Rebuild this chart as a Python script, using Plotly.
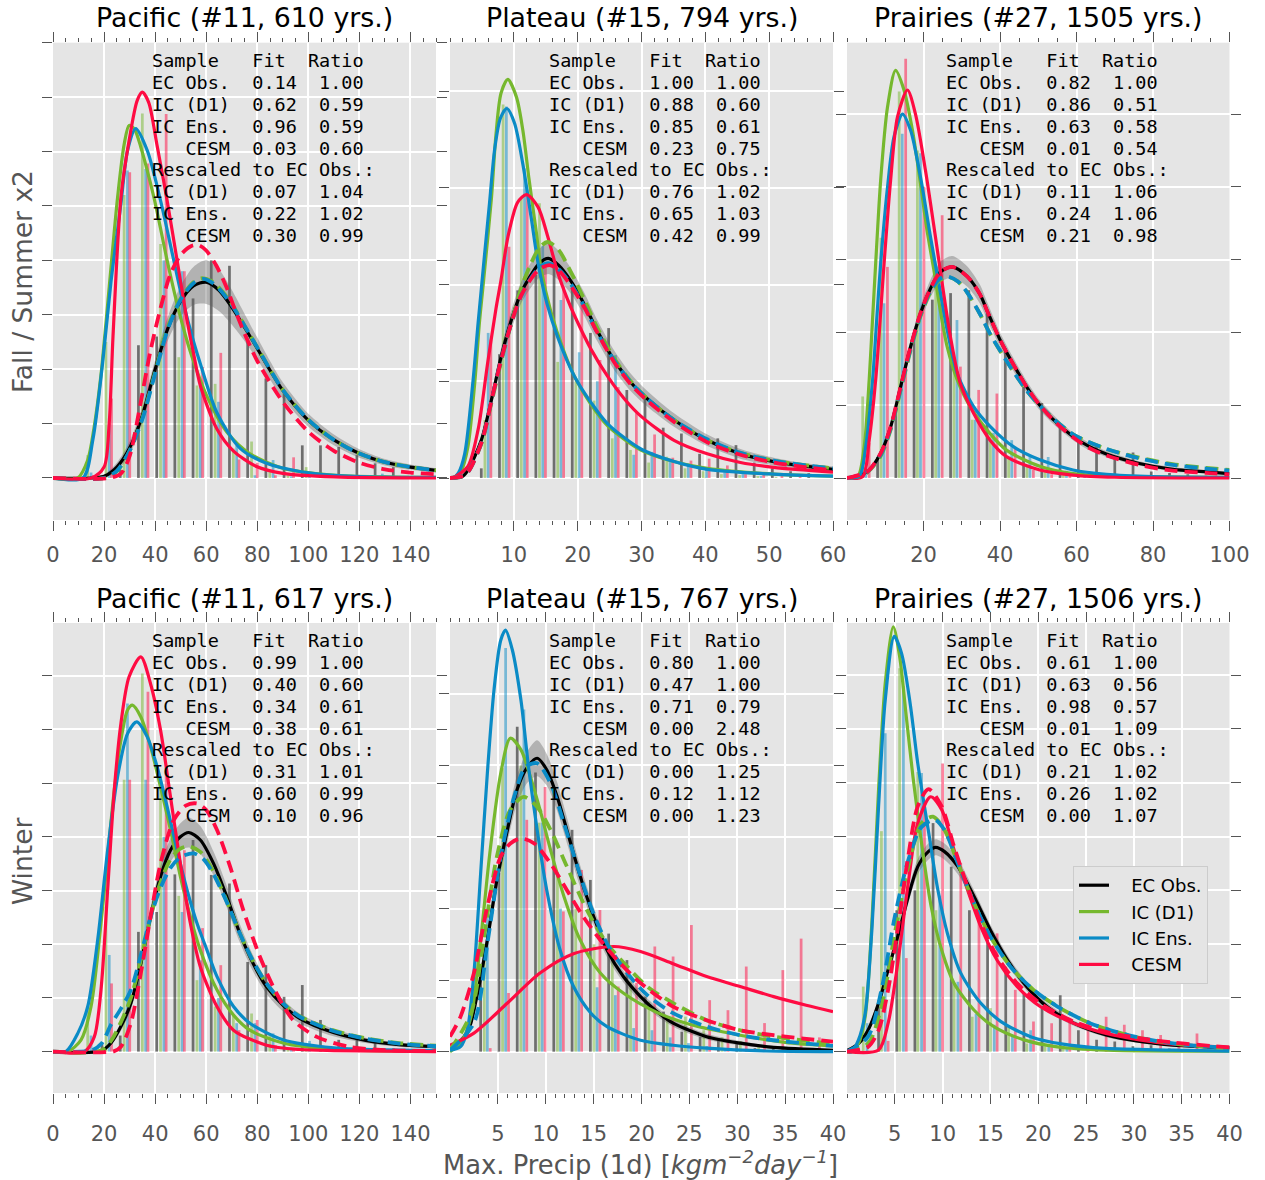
import plotly.graph_objects as go

W, H = 1265, 1180

# ------------------------------------------------------------------ data
REGIONS = ["Pacific", "Plateau", "Prairies"]
REGION_IDS = [11, 15, 27]
YEARS = [610, 794, 1505, 617, 767, 1506]
SEASONS = ["Fall / Summer x2", "Winter"]
SERIES = ["EC Obs.", "IC (D1)", "IC Ens.", "CESM"]

FIT = [[0.14, 0.62, 0.96, 0.03], [1.00, 0.88, 0.85, 0.23], [0.82, 0.86, 0.63, 0.01],
       [0.99, 0.40, 0.34, 0.38], [0.80, 0.47, 0.71, 0.00], [0.61, 0.63, 0.98, 0.01]]
RATIO = [[1.00, 0.59, 0.59, 0.60], [1.00, 0.60, 0.61, 0.75], [1.00, 0.51, 0.58, 0.54],
         [1.00, 0.60, 0.61, 0.61], [1.00, 1.00, 0.79, 2.48], [1.00, 0.56, 0.57, 1.09]]
RS_FIT = [[0.07, 0.22, 0.30], [0.76, 0.65, 0.42], [0.11, 0.24, 0.21],
          [0.31, 0.60, 0.10], [0.00, 0.12, 0.00], [0.21, 0.26, 0.00]]
RS_RATIO = [[1.04, 1.02, 0.99], [1.02, 1.03, 0.99], [1.06, 1.06, 0.98],
            [1.01, 0.99, 0.96], [1.25, 1.12, 1.23], [1.02, 1.02, 1.07]]

# ---- Panel 1: Pacific, fall/summer (density in grid units)
P1_EC = [(0, 0), (15, 0), (20, 0.03), (25, 0.2), (30, 0.55), (35, 1.15), (40, 2.0), (45, 2.75),
         (50, 3.25), (55, 3.53), (60, 3.6), (65, 3.45), (70, 3.14), (75, 2.77), (80, 2.38),
         (85, 1.98), (90, 1.61), (100, 1.06), (110, 0.7), (120, 0.45), (130, 0.29), (140, 0.2), (150, 0.14)]
P1_BAND = [0, 0, 0.03, 0.08, 0.12, 0.15, 0.18, 0.22, 0.28, 0.35, 0.4, 0.38, 0.32, 0.25, 0.2,
           0.17, 0.15, 0.12, 0.1, 0.08, 0.06, 0.05, 0.04]
P1_D1 = [(0, 0), (9.7, 0), (13.6, 0.33), (16, 0.9), (18.8, 1.9), (22, 3.5), (25.3, 5.16), (27.9, 6.14),
         (29.8, 6.48), (32, 6.4), (34.4, 6.08), (39.5, 5.16), (44.7, 4.0), (48.6, 3.2), (52, 2.6),
         (55, 2.15), (60.3, 1.5), (68, 0.85), (77, 0.45), (90, 0.18), (109.5, 0.055), (130, 0.02), (150, 0.01)]
P1_ENS = [(0, 0), (11.7, 0), (15.6, 0.7), (19.4, 2.1), (22.7, 3.6), (26.6, 5.04), (29.2, 6.02), (32.4, 6.42),
          (36.9, 6.02), (42.1, 5.1), (47.3, 4.0), (50.6, 3.3), (55.1, 2.5), (57.7, 2.1), (64.2, 1.2),
          (73.2, 0.55), (83.6, 0.27), (96.6, 0.12), (110, 0.05), (130, 0.015), (150, 0.01)]
P1_CESM = [(0, 0), (15, 0), (20, 0.2), (22, 1.0), (23.5, 2.6), (26.6, 5.16), (29.8, 6.2), (33, 6.94),
           (35, 7.09), (37.5, 6.9), (40.8, 6.1), (44.7, 5.1), (48.6, 4.0), (52.5, 2.9), (55, 2.3),
           (57.7, 1.7), (64.2, 0.9), (70.6, 0.5), (79.7, 0.21), (90, 0.085), (110, 0.02), (150, 0)]
P1_D1_RS = [(0, 0), (20, 0), (25, 0.12), (30, 0.5), (35, 1.1), (40, 1.95), (45, 2.78), (50, 3.3),
            (55, 3.6), (58, 3.67), (62, 3.62), (65, 3.5), (70, 3.2), (75, 2.8), (80, 2.4), (90, 1.62),
            (100, 1.07), (110, 0.7), (120, 0.45), (130, 0.29), (140, 0.2), (150, 0.14)]
P1_ENS_RS = [(0, 0), (20, 0), (25, 0.13), (30, 0.5), (35, 1.08), (40, 1.92), (45, 2.74), (50, 3.28),
             (55, 3.58), (59, 3.66), (62, 3.6), (65, 3.48), (70, 3.18), (75, 2.8), (80, 2.4), (90, 1.62),
             (100, 1.07), (110, 0.7), (120, 0.45), (130, 0.29), (140, 0.2), (150, 0.14)]
P1_CESM_RS = [(0, 0), (22, 0), (26.6, 0.08), (30, 0.4), (34, 1.3), (38, 2.3), (42, 3.1), (46, 3.75),
              (50, 4.1), (54, 4.26), (57, 4.28), (60, 4.18), (64, 3.9), (68, 3.5), (72, 3.0), (76, 2.55),
              (80, 2.15), (90, 1.4), (100, 0.85), (110, 0.5), (120, 0.28), (130, 0.16), (140, 0.1), (150, 0.07)]
P1_BIN_W = 7.13
P1_EC_BARS = (19.2, [0.05, 0.15, 2.44, 2.6, 3.0, 3.3, 4.0, 3.9, 2.5, 1.83, 1.61, 0.6, 0.6, 0.57, 0.42, 0.27, 0.2])
P1_D1_BARS = (13.6, [0.42, 2.5, 5.2, 6.7, 4.3, 2.22, 1.7, 1.73, 0.54, 0.67, 0.15, 0.05, 0.2])
P1_ENS_BARS = (14.9, [0.1, 1.0, 5.65, 5.68, 4.0, 3.8, 1.7, 1.4, 0.6, 0.05, 0.33, 0.03, 0.02, 0.02, 0.01, 0.01, 0.08])
P1_CESM_BARS = (15.8, [0.05, 1.46, 5.62, 5.78, 6.69, 3.8, 2.04, 2.3, 0.34, 0.28, 0.05, 0.38])

# ---- Panel 2: Plateau, fall/summer
P2_EC = [(0, 0), (1.8, 0.01), (2.8, 0.08), (4.9, 0.39), (6.5, 0.81), (8, 1.25), (9.6, 1.63), (11.1, 1.91),
         (12.7, 2.1), (14, 2.22), (15.4, 2.27), (17, 2.2), (19, 2.03), (21, 1.8), (23.1, 1.52), (25.7, 1.22),
         (28.3, 0.99), (30.9, 0.82), (35.1, 0.6), (40.3, 0.39), (45.5, 0.25), (50.7, 0.17), (55.9, 0.12), (60, 0.09)]
P2_BAND = [0, 0, 0.02, 0.05, 0.07, 0.09, 0.1, 0.11, 0.13, 0.15, 0.16, 0.15, 0.13, 0.12, 0.11, 0.1,
           0.09, 0.08, 0.07, 0.06, 0.05, 0.04, 0.03, 0.03]
P2_D1 = [(0, 0), (0.5, 0), (1.8, 0.08), (2.8, 0.32), (3.9, 1.0), (4.6, 1.6), (5.2, 2.0), (6.5, 2.9),
         (7.2, 3.55), (8.0, 3.98), (9.06, 4.12), (10.4, 3.94), (11.4, 3.6), (12.4, 3.08), (13.5, 2.55),
         (14.3, 2.15), (15.8, 1.72), (17.9, 1.3), (19.5, 1.05), (22.1, 0.76), (24.7, 0.54), (29.9, 0.29),
         (35.1, 0.17), (40.3, 0.1), (50.7, 0.04), (60, 0.02)]
P2_ENS = [(0, 0), (0.5, 0), (1.3, 0.05), (2.3, 0.25), (3.6, 1.0), (4.4, 1.6), (4.9, 1.95), (5.4, 2.3),
          (6.2, 2.85), (7.0, 3.4), (7.9, 3.72), (8.9, 3.82), (10.1, 3.67), (11.4, 3.25), (12.7, 2.7),
          (13.8, 2.22), (15.2, 1.8), (16.9, 1.45), (19.5, 1.05), (22.1, 0.78), (24.7, 0.56), (29.9, 0.3),
          (35.1, 0.17), (40.3, 0.09), (50.7, 0.04), (60, 0.02)]
P2_CESM = [(0, 0), (0.7, 0.01), (2.8, 0.12), (4.4, 0.5), (5.9, 1.19), (7.2, 1.75), (8.0, 2.05), (9.1, 2.5),
           (10.6, 2.85), (12.0, 2.93), (13.8, 2.8), (15.3, 2.5), (16.9, 2.12), (18.4, 1.85), (19.5, 1.68),
           (22.1, 1.33), (24.7, 1.05), (27.3, 0.82), (29.9, 0.64), (35.1, 0.39), (40.3, 0.25), (45.5, 0.16),
           (50.7, 0.11), (60, 0.06)]
P2_D1_RS = [(0, 0), (2, 0.02), (3, 0.08), (5, 0.37), (6.5, 0.78), (8, 1.2), (9.6, 1.6), (11.1, 1.95),
            (12.7, 2.22), (14, 2.38), (15.3, 2.44), (17, 2.36), (19, 2.12), (21, 1.85), (23.1, 1.55),
            (25.7, 1.24), (28.3, 1.0), (30.9, 0.82), (35.1, 0.6), (40.3, 0.39), (45.5, 0.26), (50.7, 0.18),
            (55.9, 0.13), (60, 0.1)]
P2_ENS_RS = [(0, 0), (2, 0.02), (3, 0.08), (5, 0.38), (6.5, 0.8), (8, 1.22), (9.6, 1.6), (11.1, 1.88),
             (12.7, 2.07), (14, 2.18), (15.4, 2.22), (17, 2.16), (19, 2.0), (21, 1.78), (23.1, 1.5),
             (25.7, 1.22), (28.3, 0.99), (30.9, 0.82), (35.1, 0.6), (40.3, 0.4), (45.5, 0.26), (50.7, 0.18),
             (55.9, 0.13), (60, 0.1)]
P2_CESM_RS = [(0, 0), (2, 0.02), (3, 0.08), (5, 0.38), (6.5, 0.8), (8, 1.22), (9.6, 1.6), (11.1, 1.88),
              (12.7, 2.06), (14, 2.16), (15.6, 2.2), (17, 2.15), (19, 1.98), (21, 1.77), (23.1, 1.5),
              (25.7, 1.2), (28.3, 0.97), (30.9, 0.8), (35.1, 0.58), (40.3, 0.37), (45.5, 0.24), (50.7, 0.16),
              (55.9, 0.11), (60, 0.08)]
P2_BIN_W = 2.85
P2_EC_BARS = (4.9, [0.1, 1.28, 1.94, 2.1, 2.25, 1.98, 1.5, 1.55, 0.91, 0.82, 0.52, 0.46, 0.25, 0.41, 0.34,
                    0.16, 0.1, 0.07, 0.05])
P2_D1_BARS = (5.47, [0.6, 3.86, 2.9, 2.84, 1.2, 1.0, 0.8, 0.41, 0.29, 0.16, 0.22, 0.1, 0.07, 0.04, 0.03,
                     0.02, 0.01])
P2_ENS_BARS = (5.98, [1.5, 3.84, 3.2, 2.4, 1.84, 1.3, 1.0, 1.27, 0.24, 0.27, 0.2, 0.15, 0.1, 0.06, 0.04, 0.02])
P2_CESM_BARS = (6.4, [1.43, 2.39, 2.98, 2.2, 1.98, 1.84, 1.22, 0.94, 0.67, 0.45, 0.21, 0.18, 0.2, 0.13,
                      0.04, 0.05, 0.02, 0.02])

# ---- Panel 3: Prairies, fall/summer
P3_EC = [(0, 0), (1, 0.01), (5.4, 0.09), (8.8, 0.34), (11.4, 0.7), (14, 1.25), (16.6, 1.8), (19.2, 2.26),
         (21.8, 2.6), (24.4, 2.83), (27.5, 2.9), (31.4, 2.77), (34.8, 2.52), (36.6, 2.3), (40, 1.9),
         (43.5, 1.56), (47, 1.25), (50.4, 1.0), (54.8, 0.76), (59.1, 0.57), (63.4, 0.43), (67.8, 0.33),
         (76.4, 0.2), (85.1, 0.12), (93.8, 0.085), (100, 0.06)]
P3_BAND = [0, 0, 0.02, 0.04, 0.06, 0.08, 0.09, 0.1, 0.12, 0.14, 0.15, 0.14, 0.13, 0.12, 0.1, 0.09,
           0.08, 0.07, 0.06, 0.05, 0.05, 0.04, 0.03, 0.03, 0.02, 0.02]
P3_D1 = [(0, 0), (2.8, 0.02), (4.5, 0.43), (5.8, 1.35), (6.7, 2.2), (7.5, 2.95), (8.8, 4.09), (10.6, 5.1),
         (12.7, 5.6), (14.9, 5.33), (17.1, 4.78), (19.2, 4.05), (20.9, 3.41), (22.7, 2.86), (24.4, 2.3),
         (26.2, 1.8), (28.8, 1.35), (32.2, 0.98), (37.4, 0.61), (41.8, 0.38), (50.4, 0.16), (59.1, 0.06),
         (67.8, 0.03), (100, 0.01)]
P3_ENS = [(0, 0), (3.2, 0.02), (4.9, 0.43), (6.7, 1.35), (7.8, 2.2), (8.8, 2.95), (10.6, 4.0), (12.3, 4.69),
          (14.5, 5.0), (16.6, 4.78), (19.2, 4.14), (21.8, 3.32), (24.0, 2.67), (26.2, 2.03), (28.8, 1.44),
          (33.1, 0.98), (37.4, 0.71), (43.5, 0.43), (50.4, 0.25), (59.1, 0.11), (67.8, 0.05), (80, 0.02), (100, 0.01)]
P3_CESM = [(0, 0), (4.1, 0.02), (5.8, 0.52), (7.5, 1.35), (8.7, 2.2), (9.7, 2.95), (11.4, 4.09), (13.2, 4.96),
           (15.8, 5.33), (17.9, 5.0), (20.5, 4.23), (23.1, 3.32), (24.9, 2.67), (27, 1.95), (29.6, 1.3),
           (33.1, 0.89), (37.4, 0.52), (41.8, 0.29), (50.4, 0.11), (59.1, 0.04), (70, 0.01), (100, 0)]
P3_D1_RS = [(0, 0), (3, 0.02), (5.4, 0.08), (8.8, 0.3), (11.4, 0.66), (14, 1.2), (16.6, 1.75), (19.2, 2.22),
            (21.8, 2.55), (24.4, 2.72), (26.5, 2.76), (29, 2.7), (31.4, 2.55), (34.8, 2.25), (37.4, 1.98),
            (41.8, 1.6), (47, 1.2), (52.2, 0.9), (59.1, 0.6), (67.8, 0.4), (76.4, 0.28), (85.1, 0.19),
            (93.8, 0.14), (100, 0.11)]
P3_ENS_RS = [(0, 0), (3, 0.02), (5.4, 0.09), (8.8, 0.32), (11.4, 0.68), (14, 1.22), (16.6, 1.77), (19.2, 2.24),
             (21.8, 2.57), (24.4, 2.74), (26.2, 2.77), (29, 2.7), (31.4, 2.55), (34.8, 2.25), (37.4, 1.98),
             (41.8, 1.6), (47, 1.2), (52.2, 0.9), (59.1, 0.6), (67.8, 0.4), (76.4, 0.27), (85.1, 0.18),
             (93.8, 0.13), (100, 0.1)]
P3_CESM_RS = [(0, 0), (1, 0.01), (5.4, 0.09), (8.8, 0.34), (11.4, 0.7), (14, 1.25), (16.6, 1.8), (19.2, 2.26),
              (21.8, 2.6), (24.4, 2.83), (27.5, 2.9), (31.4, 2.77), (34.8, 2.52), (36.6, 2.3), (40, 1.9),
              (43.5, 1.56), (47, 1.25), (50.4, 1.0), (54.8, 0.75), (59.1, 0.56), (63.4, 0.41), (67.8, 0.31),
              (76.4, 0.18), (85.1, 0.1), (93.8, 0.07), (100, 0.05)]
P3_BIN_W = 4.77
P3_EC_BARS = (8.0, [0.29, 0.96, 1.94, 2.45, 2.54, 2.58, 2.26, 1.78, 1.25, 1.03, 0.75, 0.57, 0.43, 0.29, 0.35,
                    0.09, 0.07, 0.05, 0.03])
P3_D1_BARS = (4.1, [1.12, 3.3, 5.31, 4.5, 2.8, 1.6, 0.8, 0.57, 0.29, 0.15, 0.1, 0.05])
P3_ENS_BARS = (4.9, [0.15, 2.4, 4.73, 4.46, 2.9, 2.17, 0.8, 0.62, 0.52, 0.3, 0.29, 0.1, 0.05])
P3_CESM_BARS = (5.8, [0.48, 2.9, 5.76, 4.0, 3.61, 1.53, 1.21, 1.16, 0.43, 0.11, 0.05, 0.03])

# ---- Panel 4: Pacific, winter
P4_EC = [(0, 0), (18.8, 0.01), (22.7, 0.16), (26.6, 0.47), (30.5, 0.9), (34.4, 1.64), (38.2, 2.51),
         (42.1, 3.26), (46, 3.75), (49.9, 4.0), (53.2, 4.08), (57.7, 3.94), (62.9, 3.5), (68.1, 2.88),
         (73.2, 2.2), (78.4, 1.64), (83.6, 1.21), (90.1, 0.86), (96.6, 0.62), (109.5, 0.36), (122.5, 0.21),
         (135.5, 0.13), (150, 0.09)]
P4_BAND = [0, 0, 0.04, 0.08, 0.12, 0.15, 0.18, 0.2, 0.22, 0.25, 0.28, 0.26, 0.22, 0.2, 0.17, 0.15,
           0.13, 0.11, 0.09, 0.07, 0.05, 0.04, 0.03]
P4_D1 = [(0, 0), (5.8, 0), (11, 0.22), (14.9, 0.84), (18.8, 2.39), (21.4, 3.63), (24, 4.87), (26.6, 5.8),
         (29.2, 6.36), (31.1, 6.45), (34.4, 6.23), (38.2, 5.68), (42.1, 4.93), (46, 4.13), (49.9, 3.26),
         (53.8, 2.51), (57.7, 1.89), (64.2, 1.15), (70.7, 0.68), (77.1, 0.4), (90.1, 0.16), (110, 0.04), (150, 0.01)]
P4_ENS = [(0, 0), (5, 0), (9.7, 0.34), (13.6, 0.84), (17.5, 2.08), (21.4, 3.75), (25.3, 5.12), (29.2, 5.92),
          (32.8, 6.14), (36.9, 5.86), (40.8, 5.3), (44.7, 4.56), (48.6, 3.75), (52.5, 3.01), (56.4, 2.39),
          (60.3, 1.89), (64.2, 1.4), (70.7, 0.84), (77.1, 0.53), (90.1, 0.22), (110, 0.07), (150, 0.02)]
P4_CESM = [(0, 0), (12.3, 0), (16.2, 0.28), (18.8, 1.15), (21.4, 3.01), (24, 4.87), (26.6, 6.11), (29.8, 6.98),
           (34.4, 7.35), (38.2, 6.85), (42.1, 5.99), (46, 4.75), (49.9, 3.5), (53.8, 2.39), (57.7, 1.58),
           (64.2, 0.84), (70.7, 0.4), (83.6, 0.12), (96.6, 0.04), (110, 0.02), (150, 0)]
P4_D1_RS = [(0, 0), (18.8, 0.02), (22.7, 0.2), (26.6, 0.55), (30.5, 1.0), (34.4, 1.7), (38.2, 2.5), (42.1, 3.15),
            (46, 3.58), (49.9, 3.78), (53.2, 3.82), (57.7, 3.72), (62.9, 3.35), (68.1, 2.8), (73.2, 2.2),
            (78.4, 1.68), (83.6, 1.27), (90.1, 0.9), (96.6, 0.66), (109.5, 0.4), (122.5, 0.25), (135.5, 0.16),
            (150, 0.11)]
P4_ENS_RS = [(0, 0), (15, 0.02), (19, 0.15), (22.7, 0.5), (26.6, 0.8), (30.5, 1.15), (34.4, 1.8), (38.2, 2.5),
             (42.1, 3.05), (46, 3.42), (49.9, 3.62), (55.1, 3.69), (59, 3.58), (62.9, 3.3), (68.1, 2.78),
             (73.2, 2.2), (78.4, 1.68), (83.6, 1.27), (90.1, 0.9), (96.6, 0.65), (109.5, 0.39), (122.5, 0.24),
             (135.5, 0.15), (150, 0.1)]
P4_CESM_RS = [(0, 0), (24, 0.01), (26.6, 0.09), (30.5, 0.53), (34.4, 1.46), (38.2, 2.51), (42.1, 3.5),
              (47.3, 4.31), (52, 4.58), (56.4, 4.62), (60, 4.5), (64.2, 4.13), (69.4, 3.44), (74.5, 2.64),
              (81, 1.77), (87.5, 1.09), (94, 0.59), (103.1, 0.28), (116, 0.09), (130, 0.03), (150, 0.01)]
P4_BIN_W = 7.13
P4_EC_BARS = (19.2, [0.16, 0.3, 2.23, 2.6, 3.3, 3.94, 3.29, 3.13, 1.67, 1.61, 1.02, 1.24, 0.59, 0.22, 0.22,
                     0.19, 0.06])
P4_D1_BARS = (13.6, [0.84, 2.7, 5.06, 7.04, 4.9, 2.9, 1.33, 0.84, 0.7, 0.71, 0.34, 0.06, 0.05])
P4_ENS_BARS = (14.9, [0.3, 1.8, 6.48, 5.06, 4.0, 2.6, 1.7, 1.0, 0.53, 0.53, 0.34, 0.03, 0.2])
P4_CESM_BARS = (15.8, [0.05, 1.27, 5.06, 6.7, 5.2, 3.75, 2.3, 1.61, 0.4, 0.59, 0.12, 0.05])

# ---- Panel 5: Plateau, winter
P5_EC = [(0, 0.02), (1.8, 0.26), (2.8, 0.77), (3.9, 1.56), (4.9, 2.4), (6.0, 3.1), (7.0, 3.66), (8.1, 3.98),
         (9.1, 4.1), (10.1, 3.94), (11.2, 3.56), (12.2, 3.1), (13.6, 2.45), (15.0, 1.89), (16.4, 1.42),
         (18.1, 1.05), (19.9, 0.77), (21.6, 0.56), (23.3, 0.4), (26.8, 0.21), (30.3, 0.12), (33.8, 0.06), (40, 0.02)]
P5_BAND = [0.02, 0.06, 0.1, 0.13, 0.15, 0.17, 0.2, 0.22, 0.25, 0.22, 0.2, 0.18, 0.15, 0.13, 0.1, 0.08,
           0.07, 0.06, 0.05, 0.04, 0.03, 0.02, 0.02]
P5_D1 = [(0, 0), (1.1, 0.12), (2.2, 0.49), (3.2, 1.56), (4.2, 2.82), (5.3, 3.89), (6.3, 4.38), (7.4, 4.22),
         (8.4, 3.84), (9.4, 3.38), (10.5, 2.82), (11.9, 2.17), (13.6, 1.56), (15.7, 1.1), (18.1, 0.82),
         (21.6, 0.55), (25.1, 0.38), (30.3, 0.23), (35, 0.13), (40, 0.08)]
P5_ENS = [(0, 0.02), (1.1, 0.07), (1.8, 0.3), (2.5, 1.1), (3.2, 2.49), (3.9, 3.89), (4.6, 5.06), (5.3, 5.75),
          (5.8, 5.89), (6.5, 5.62), (7.4, 4.92), (8.2, 3.98), (9.1, 3.1), (10.1, 2.26), (11.5, 1.42),
          (12.9, 0.91), (14.7, 0.54), (16.4, 0.35), (19.9, 0.16), (23.3, 0.09), (26.8, 0.05), (33, 0.01), (40, 0)]
P5_CESM = [(0, 0.09), (2.5, 0.26), (6.0, 0.68), (9.4, 1.1), (12.9, 1.37), (17.1, 1.47), (19.9, 1.4),
           (23.3, 1.23), (26.8, 1.05), (30.3, 0.91), (33.8, 0.77), (37.2, 0.65), (40, 0.56)]
P5_D1_RS = [(0, 0.02), (2.2, 0.54), (3.5, 1.56), (4.9, 2.73), (6.3, 3.38), (7.7, 3.56), (9.1, 3.42),
            (10.5, 3.1), (12.2, 2.59), (14.3, 1.98), (16.4, 1.51), (18.5, 1.19), (20.6, 0.91), (23.3, 0.68),
            (26.8, 0.44), (30.3, 0.3), (33.8, 0.21), (40, 0.11)]
P5_ENS_RS = [(0, 0.02), (2.5, 0.4), (3.9, 1.51), (5.3, 2.73), (6.7, 3.56), (7.9, 3.98), (9.1, 4.03),
             (10.5, 3.75), (11.9, 3.19), (13.3, 2.59), (14.7, 2.03), (16.4, 1.51), (18.5, 1.1), (20.6, 0.79),
             (23.3, 0.54), (26.8, 0.35), (30.3, 0.23), (33.8, 0.16), (40, 0.08)]
P5_CESM_RS = [(0, 0.21), (1.1, 0.49), (2.5, 1.1), (3.9, 2.03), (5.3, 2.73), (6.3, 2.91), (7.4, 2.98),
              (8.8, 2.91), (10.5, 2.63), (12.2, 2.26), (13.9, 1.89), (15.7, 1.56), (17.8, 1.23), (19.9, 0.96),
              (23.3, 0.63), (26.8, 0.44), (30.3, 0.3), (33.8, 0.23), (40, 0.14)]
P5_BIN_W = 1.91
P5_EC_BARS = (3.2, [1.14, 2.5, 4.54, 3.9, 3.68, 3.1, 2.4, 1.65, 1.28, 0.77, 0.56, 0.28, 0.21, 0.19, 0.12,
                    0.05, 0.04])
P5_D1_BARS = (3.58, [1.5, 3.96, 4.0, 3.2, 2.5, 2.0, 1.5, 1.33, 0.98, 0.7, 0.5, 0.49, 0.3, 0.2, 0.15, 0.1])
P5_ENS_BARS = (3.9, [2.0, 5.64, 4.78, 3.2, 2.0, 1.4, 0.9, 0.79, 0.33, 0.3, 0.2, 0.12, 0.08, 0.05])
P5_CESM_BARS = (4.2, [0.05, 0.82, 3.24, 3.7, 1.96, 2.54, 1.98, 0.91, 0.96, 1.47, 1.33, 1.77, 0.72, 0.58,
                      1.19, 0.4, 1.14, 1.58, 0.2])

# ---- Panel 6: Prairies, winter
P6_EC = [(0, 0.02), (1.2, 0.15), (2.2, 0.4), (3.3, 0.9), (4.3, 1.52), (5.4, 2.2), (6.4, 2.88), (7.4, 3.44),
         (8.5, 3.72), (9.27, 3.8), (10.2, 3.72), (11.6, 3.44), (13.3, 2.88), (15, 2.26), (16.8, 1.7),
         (18.8, 1.21), (20.9, 0.84), (23.7, 0.53), (27.1, 0.31), (30.6, 0.19), (34.1, 0.12), (40, 0.07)]
P6_BAND = [0.02, 0.04, 0.06, 0.08, 0.1, 0.12, 0.13, 0.14, 0.15, 0.15, 0.15, 0.14, 0.12, 0.1, 0.09, 0.08,
           0.07, 0.05, 0.04, 0.03, 0.03, 0.02]
P6_D1 = [(0, 0), (0.5, 0), (1.2, 0.15), (1.9, 0.65), (2.6, 2.39), (3.3, 4.87), (4.0, 6.85), (4.84, 7.9),
         (5.5, 7.35), (6.2, 6.23), (6.9, 5.11), (7.8, 3.87), (8.8, 2.7), (9.9, 1.89), (11.2, 1.27), (13.3, 0.77),
         (15.4, 0.46), (18.5, 0.22), (22, 0.09), (27.1, 0.03), (40, 0.01)]
P6_ENS = [(0, 0), (0.5, 0), (1.2, 0.22), (1.9, 0.71), (2.6, 2.26), (3.3, 4.56), (4.0, 6.54), (4.94, 7.72),
          (5.7, 7.41), (6.6, 6.48), (7.4, 5.36), (8.5, 4.12), (9.5, 3.01), (10.5, 2.2), (11.9, 1.46), (14, 0.9),
          (16.1, 0.56), (19.2, 0.28), (22.6, 0.14), (27.1, 0.06), (34, 0.03), (40, 0.01)]
P6_CESM = [(0, 0), (3.3, 0.03), (4.3, 0.53), (5.4, 1.77), (6.4, 3.13), (7.4, 4.25), (8.75, 4.74), (9.9, 4.5),
           (11.2, 3.75), (12.6, 3.01), (14, 2.32), (15.7, 1.7), (17.8, 1.21), (20.2, 0.84), (23.7, 0.53),
           (27.1, 0.34), (30.6, 0.22), (34.1, 0.14), (40, 0.08)]
P6_D1_RS = [(0, 0), (2.2, 0.15), (3.6, 0.84), (5, 2.2), (6.4, 3.44), (7.8, 4.25), (9, 4.37), (10.2, 4.12),
            (11.6, 3.5), (13.3, 2.76), (15, 2.14), (17.1, 1.58), (19.5, 1.15), (22, 0.84), (25.4, 0.53),
            (28.9, 0.33), (32.3, 0.2), (35.8, 0.12), (40, 0.07)]
P6_ENS_RS = [(0, 0), (2.2, 0.28), (3.6, 1.15), (5, 2.51), (6.4, 3.56), (7.8, 4.18), (9.2, 4.31), (10.2, 4.12),
             (11.6, 3.5), (13.3, 2.76), (15, 2.14), (17.1, 1.58), (19.5, 1.15), (22, 0.84), (25.4, 0.53),
             (28.9, 0.33), (32.3, 0.2), (35.8, 0.12), (40, 0.07)]
P6_CESM_RS = [(0, 0), (2.2, 0.09), (3.3, 0.4), (4.3, 1.15), (5.4, 2.39), (6.4, 3.63), (7.4, 4.56), (8.54, 4.88),
              (9.9, 4.56), (11.2, 3.81), (12.6, 3.07), (14, 2.39), (15.7, 1.77), (17.8, 1.27), (20.2, 0.9),
              (23.7, 0.56), (27.1, 0.37), (30.6, 0.25), (34.1, 0.17), (40, 0.08)]
P6_BIN_W = 1.9
P6_EC_BARS = (3.3, [0.84, 2.63, 3.0, 4.25, 3.44, 2.63, 2.08, 1.58, 1.08, 0.85, 1.05, 0.4, 0.22, 0.19, 0.1,
                    0.12, 0.06, 0.04, 0.03])
P6_D1_BARS = (1.7, [1.21, 4.1, 7.13, 5.2, 2.63, 1.24, 0.65, 0.81, 0.46, 0.15, 0.1, 0.05])
P6_ENS_BARS = (2.1, [0.53, 5.92, 6.8, 5.18, 2.9, 1.3, 0.7, 0.5, 0.3, 0.4, 0.1, 0.05])
P6_CESM_BARS = (4.3, [0.2, 1.74, 4.5, 5.36, 3.5, 2.45, 2.2, 1.15, 0.56, 0.53, 0.59, 0.59, 0.65, 0.5, 0.4,
                      0.31, 0.1, 0.34, 0.05])

# x-axis tick values per panel (first label omitted on inner columns)
X_TICKS = [list(range(0, 141, 20)), list(range(10, 61, 10)), list(range(20, 101, 20)),
           list(range(0, 141, 20)), list(range(5, 41, 5)), list(range(5, 41, 5))]

# ------------------------------------------------------------------ styling / geometry
COLORS = ["#000000", "#76b82e", "#0a8bc6", "#ff0b42"]
BAR_COLORS = ["rgba(0,0,0,0.52)", "rgba(118,184,46,0.5)", "rgba(10,139,198,0.5)", "rgba(255,11,66,0.5)"]
BAND_COLOR = "rgba(95,95,95,0.38)"
GREY_TXT = "#555555"
SANS = "DejaVu Sans"
MONO = "DejaVu Sans Mono"

COLS = [(53, 436), (450, 833), (847, 1229.5)]
ROWS = [(42.7, 520), (623, 1093)]
LABEL_STANDOFF = [6, 12]
Y_RANGES = [(-0.772, 8.0), (-0.434, 4.5), (-0.577, 5.98), (-0.77, 7.98), (-0.577, 5.99), (-0.768, 7.97)]
X_RANGES = [(0, 150), (0, 60), (0, 100), (0, 150), (0, 40), (0, 40)]
X_MINOR = [5, 2, 5, 5, 1, 1]

PANELS = [
    (P1_EC, P1_BAND, P1_D1, P1_ENS, P1_CESM, P1_D1_RS, P1_ENS_RS, P1_CESM_RS, P1_BIN_W,
     [P1_EC_BARS, P1_D1_BARS, P1_ENS_BARS, P1_CESM_BARS]),
    (P2_EC, P2_BAND, P2_D1, P2_ENS, P2_CESM, P2_D1_RS, P2_ENS_RS, P2_CESM_RS, P2_BIN_W,
     [P2_EC_BARS, P2_D1_BARS, P2_ENS_BARS, P2_CESM_BARS]),
    (P3_EC, P3_BAND, P3_D1, P3_ENS, P3_CESM, P3_D1_RS, P3_ENS_RS, P3_CESM_RS, P3_BIN_W,
     [P3_EC_BARS, P3_D1_BARS, P3_ENS_BARS, P3_CESM_BARS]),
    (P4_EC, P4_BAND, P4_D1, P4_ENS, P4_CESM, P4_D1_RS, P4_ENS_RS, P4_CESM_RS, P4_BIN_W,
     [P4_EC_BARS, P4_D1_BARS, P4_ENS_BARS, P4_CESM_BARS]),
    (P5_EC, P5_BAND, P5_D1, P5_ENS, P5_CESM, P5_D1_RS, P5_ENS_RS, P5_CESM_RS, P5_BIN_W,
     [P5_EC_BARS, P5_D1_BARS, P5_ENS_BARS, P5_CESM_BARS]),
    (P6_EC, P6_BAND, P6_D1, P6_ENS, P6_CESM, P6_D1_RS, P6_ENS_RS, P6_CESM_RS, P6_BIN_W,
     [P6_EC_BARS, P6_D1_BARS, P6_ENS_BARS, P6_CESM_BARS]),
]


def split(pairs):
    return [p[0] for p in pairs], [p[1] for p in pairs]


def px_x(px):
    return px / W


def px_y(py):
    return 1 - py / H


fig = go.Figure()
layout = dict(
    width=W, height=H, autosize=False,
    margin=dict(l=0, r=0, t=0, b=0, pad=0, autoexpand=False),
    paper_bgcolor="white", plot_bgcolor="#e5e5e5",
    barmode="overlay", showlegend=True, hovermode=False,
    font=dict(family=SANS, color="black"),
)
annotations = []

for i, panel in enumerate(PANELS):
    ec, band, d1, ens, cesm, d1rs, ensrs, cesmrs, binw, bars = panel
    row, col = divmod(i, 3)
    n = "" if i == 0 else str(i + 1)
    xa, ya = "x" + n, "y" + n

    # histogram bars
    for k, (x0, heights) in enumerate(bars):
        fig.add_trace(go.Bar(
            x=[x0 + j * binw for j in range(len(heights))], y=heights, width=binw * 0.15,
            marker=dict(color=BAR_COLORS[k], line=dict(width=0)),
            xaxis=xa, yaxis=ya, showlegend=False, hoverinfo="skip"))

    # uncertainty band around EC obs fit
    ex, ey = split(ec)
    lo = [max(v - h, 0) for v, h in zip(ey, band)]
    hi = [v + h for v, h in zip(ey, band)]
    fig.add_trace(go.Scatter(x=ex, y=lo, mode="lines", line=dict(width=0, shape="spline", smoothing=0.8),
                             xaxis=xa, yaxis=ya, showlegend=False, hoverinfo="skip"))
    fig.add_trace(go.Scatter(x=ex, y=hi, mode="lines", line=dict(width=0, shape="spline", smoothing=0.8),
                             fill="tonexty", fillcolor=BAND_COLOR,
                             xaxis=xa, yaxis=ya, showlegend=False, hoverinfo="skip"))

    # solid fits
    for k, curve in enumerate([ec, d1, ens, cesm]):
        cx, cy = split(curve)
        fig.add_trace(go.Scatter(
            x=cx, y=cy, mode="lines", name="\u00a0\u00a0\u00a0" + SERIES[k],
            line=dict(color=COLORS[k], width=3.2, shape="spline", smoothing=0.8),
            xaxis=xa, yaxis=ya, showlegend=(i == 5), hoverinfo="skip"))
    # rescaled (dashed) fits
    for k, curve in enumerate([d1rs, ensrs, cesmrs]):
        cx, cy = split(curve)
        fig.add_trace(go.Scatter(
            x=cx, y=cy, mode="lines",
            line=dict(color=COLORS[k + 1], width=3.8, dash="13px,7px", shape="spline", smoothing=0.8),
            xaxis=xa, yaxis=ya, showlegend=False, hoverinfo="skip"))

    x0p, x1p = COLS[col]
    y0p, y1p = ROWS[row]
    ticks = X_TICKS[i]
    layout["xaxis" + n] = dict(
        domain=[px_x(x0p), px_x(x1p)], range=list(X_RANGES[i]), anchor=ya, automargin=False,
        tickmode="array", tickvals=ticks, ticktext=[str(t) for t in ticks],
        ticks="outside", ticklen=10, tickwidth=1.4, tickcolor=GREY_TXT, mirror="ticks",
        showline=False, zeroline=False, showgrid=True, gridcolor="white", gridwidth=1.7,
        tickfont=dict(size=21, color=GREY_TXT, family=SANS), ticklabelstandoff=LABEL_STANDOFF[row],
        minor=dict(dtick=X_MINOR[i], tick0=0, ticks="outside", ticklen=4, tickwidth=1.2,
                   tickcolor=GREY_TXT, showgrid=False),
    )
    yr = Y_RANGES[i]
    layout["yaxis" + n] = dict(
        domain=[px_y(y1p), px_y(y0p)], range=list(yr), anchor=xa, automargin=False,
        tickmode="array", tickvals=list(range(0, int(yr[1] + 0.05) + 1)), showticklabels=False,
        ticks="outside", ticklen=10, tickwidth=1.4, tickcolor=GREY_TXT, mirror="ticks",
        showline=False, zeroline=False, showgrid=True, gridcolor="white", gridwidth=1.7,
    )

    # panel title
    title = f"{REGIONS[col]} (#{REGION_IDS[col]}, {YEARS[i]} yrs.)"
    annotations.append(dict(
        text=title, x=px_x((x0p + x1p) / 2), y=px_y(18 if row == 0 else 598),
        xref="paper", yref="paper", xanchor="center", yanchor="middle", showarrow=False,
        font=dict(size=26.8, family=SANS, color="black")))

    # statistics table
    f, r, rf, rr = FIT[i], RATIO[i], RS_FIT[i], RS_RATIO[i]
    lines = ["Sample   Fit  Ratio",
             f"EC Obs.  {f[0]:.2f}  {r[0]:.2f}",
             f"IC (D1)  {f[1]:.2f}  {r[1]:.2f}",
             f"IC Ens.  {f[2]:.2f}  {r[2]:.2f}",
             f"   CESM  {f[3]:.2f}  {r[3]:.2f}",
             "Rescaled to EC Obs.:",
             f"IC (D1)  {rf[0]:.2f}  {rr[0]:.2f}",
             f"IC Ens.  {rf[1]:.2f}  {rr[1]:.2f}",
             f"   CESM  {rf[2]:.2f}  {rr[2]:.2f}"]
    top = 60.4 if row == 0 else 640.4
    for j, line in enumerate(lines):
        annotations.append(dict(
            text=line.replace(" ", "\u00a0"), x=px_x(x0p + 98), y=px_y(top + 21.9 * j),
            xref="paper", yref="paper", xanchor="left", yanchor="middle", showarrow=False,
            borderpad=0, font=dict(size=18.5, family=MONO, color="black")))

# row titles
annotations.append(dict(text=SEASONS[0], x=px_x(22), y=px_y(282), xref="paper", yref="paper",
                        textangle=-90, showarrow=False, xanchor="center", yanchor="middle",
                        font=dict(size=26.5, family=SANS, color=GREY_TXT)))
annotations.append(dict(text=SEASONS[1], x=px_x(22), y=px_y(862), xref="paper", yref="paper",
                        textangle=-90, showarrow=False, xanchor="center", yanchor="middle",
                        font=dict(size=26.5, family=SANS, color=GREY_TXT)))
# x title
annotations.append(dict(
    text="Max. Precip (1d) [<i>kgm</i><sup><i>\u22122</i></sup><i>day</i><sup><i>\u22121</i></sup>]",
    x=px_x(640), y=px_y(1163), xref="paper", yref="paper", showarrow=False,
    xanchor="center", yanchor="middle", font=dict(size=25.8, family=SANS, color=GREY_TXT)))

layout["annotations"] = annotations
layout["legend"] = dict(
    x=px_x(1073), y=px_y(866), xanchor="left", yanchor="top", traceorder="normal",
    bgcolor="#e5e5e5", bordercolor="#cccccc", borderwidth=1,
    font=dict(size=18, family=SANS, color="black"), itemwidth=30,
)
fig.update_layout(**layout)

fig.write_html(
    "out.html",
    config={"displayModeBar": False, "responsive": False},
    post_script="document.body.style.margin='0px';document.body.style.overflow='hidden';",
)
